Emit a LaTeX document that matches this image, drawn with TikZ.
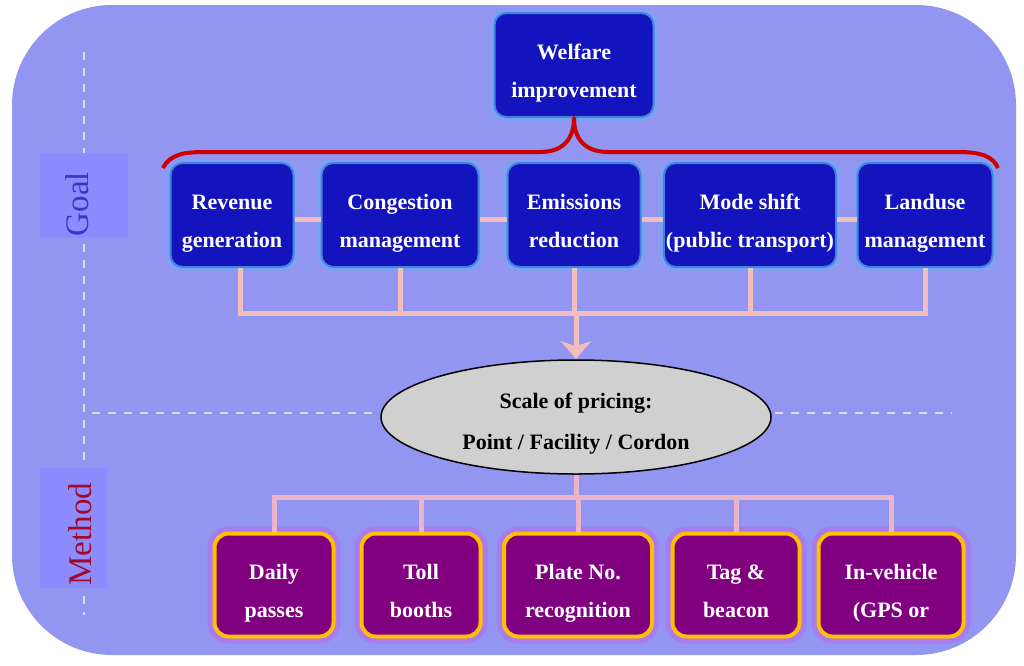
\documentclass[tikz,border=0pt]{standalone}
\usepackage{fontspec}
\setmainfont{Liberation Serif}
\usepackage{tikz}
\usetikzlibrary{calc,shapes,arrows,arrows.meta}

\definecolor{bgblue}{RGB}{146,150,240}
\definecolor{goalfill}{RGB}{20,20,190}
\definecolor{goaledge}{RGB}{70,130,220}
\definecolor{goalglow}{RGB}{110,170,250}
\definecolor{methfill}{RGB}{128,0,128}
\definecolor{methedge}{RGB}{255,192,0}
\definecolor{methglow}{RGB}{185,105,240}
\definecolor{goalwire}{RGB}{240,190,190}
\definecolor{methwire}{RGB}{236,180,200}
\definecolor{bracered}{RGB}{204,0,0}
\definecolor{tagfill}{RGB}{140,140,255}
\definecolor{goaltext}{RGB}{55,55,200}
\definecolor{methtext}{RGB}{160,10,40}
\definecolor{divgray}{RGB}{222,222,238}
\definecolor{ovalgray}{RGB}{208,208,208}

% two lines, set a little low in the box
\newcommand{\twolines}[1]{\rule{0pt}{33pt}#1\rule[-6pt]{0pt}{6pt}}

\tikzset{
  boxtext/.style={align=center, inner sep=2pt,
    font=\fontsize{22}{38}\selectfont\bfseries},
  goalbox/.style={boxtext, text=white, fill=goalfill, draw=goaledge,
    line width=2pt, rounded corners=12pt, minimum height=104pt,
    preaction={draw=goalglow, line width=8pt, opacity=0.6}},
  methbox/.style={boxtext, text=white, fill=methfill, draw=methedge,
    line width=4pt, rounded corners=14pt, minimum height=103pt,
    preaction={draw=methglow, line width=14pt, opacity=0.6}},
  scalebox/.style={ellipse, draw=black, line width=1.5pt, fill=ovalgray,
    minimum width=390pt, minimum height=114pt, inner sep=0pt, align=center,
    font=\fontsize{22}{41}\selectfont\bfseries},
  goalwire/.style={draw=goalwire, line width=5pt},
  methwire/.style={draw=methwire, line width=5pt},
  divider/.style={draw=divgray, line width=2pt, dash pattern=on 8pt off 8pt},
  tagtext/.style={rotate=90, inner sep=0pt, font=\fontsize{33}{33}\selectfont}
}

\begin{document}
\begin{tikzpicture}[x=1pt,y=1pt]
    \useasboundingbox (0,0) rectangle (1024,-665);
    \fill[bgblue, rounded corners=100pt] (12,-5) rectangle (1016,-655);

    % dashed dividers
    \draw[divider] (84,-52) -- (84,-615);
    \draw[divider] (92,-413) -- (378,-413);
    \draw[divider] (775,-413) -- (952,-413);

    % side labels
    \fill[tagfill] (40,-153) rectangle (128,-238);
    \node[tagtext, text=goaltext] (goal) at (77,-204) {Goal};
    \fill[tagfill] (40,-468) rectangle (107,-588);
    \node[tagtext, text=methtext] (method) at (80,-534) {Method};

    % goal row
    \node[goalbox, minimum width=159] (welfare) at (574,-65) {\twolines{Welfare\\improvement}};
    \foreach \n/\x/\w/\t in {1/232/123/{Revenue\\generation},
        2/400/157/{Congestion\\management}, 3/574/133/{Emissions\\reduction},
        4/750/172/{Mode shift\\(public transport)}, 5/925/135/{Landuse\\management}}
        \node[goalbox, minimum width=\w] (g\n) at (\x,-215) {\twolines{\t}};
    \foreach \i/\j in {1/2, 2/3, 3/4, 4/5}
        \draw[goalwire] ([yshift=-4pt]g\i.east) -- ([yshift=-4pt]g\j.west);

    \draw[bracered, line width=4pt, line join=round]
        (163,-168) .. controls (170,-154) and (185,-152) .. (205,-152) -- (540,-152)
        .. controls (562,-152) and (574,-140) .. (welfare.south)
        .. controls (574,-140) and (586,-152) .. (608,-152) -- (958,-152)
        .. controls (980,-152) and (993,-156) .. (998,-168);

    % scale of pricing
    \node[scalebox] (scale) at (576,-417) {\rule{0pt}{30pt}Scale of pricing:\\Point / Facility / Cordon\rule[-6pt]{0pt}{6pt}};

    \coordinate (gbus) at (576,-313);
    \draw[goalwire] ([xshift=8pt]g1.south) -- ([xshift=8pt]g1.south |- gbus) -- (g5.south |- gbus) -- (g5.south);
    \foreach \i in {2,3,4}
        \draw[goalwire] (g\i.south) -- (g\i.south |- gbus);
    \draw[goalwire, -{Stealth[length=18pt,width=30pt,inset=5pt]}] (scale.north |- gbus) -- (scale.north);

    % method row
    \foreach \n/\x/\w/\t in {1/274/119/{Daily\\passes}, 2/421/119/{Toll\\booths},
        3/578/148/{Plate No.\\recognition}, 4/736/127/{Tag \&\\beacon},
        5/891/145/{In-vehicle\\(GPS or}}
        \node[methbox, minimum width=\w] (m\n) at (\x,-585) {\twolines{\t}};

    \coordinate (mbus) at (576,-497);
    \draw[methwire] (scale.south) -- (scale.south |- mbus);
    \draw[methwire] (m1.north) -- (m1.north |- mbus) -- (m5.north |- mbus) -- (m5.north);
    \foreach \i in {2,3,4}
        \draw[methwire] (m\i.north) -- (m\i.north |- mbus);
\end{tikzpicture}
\end{document}
